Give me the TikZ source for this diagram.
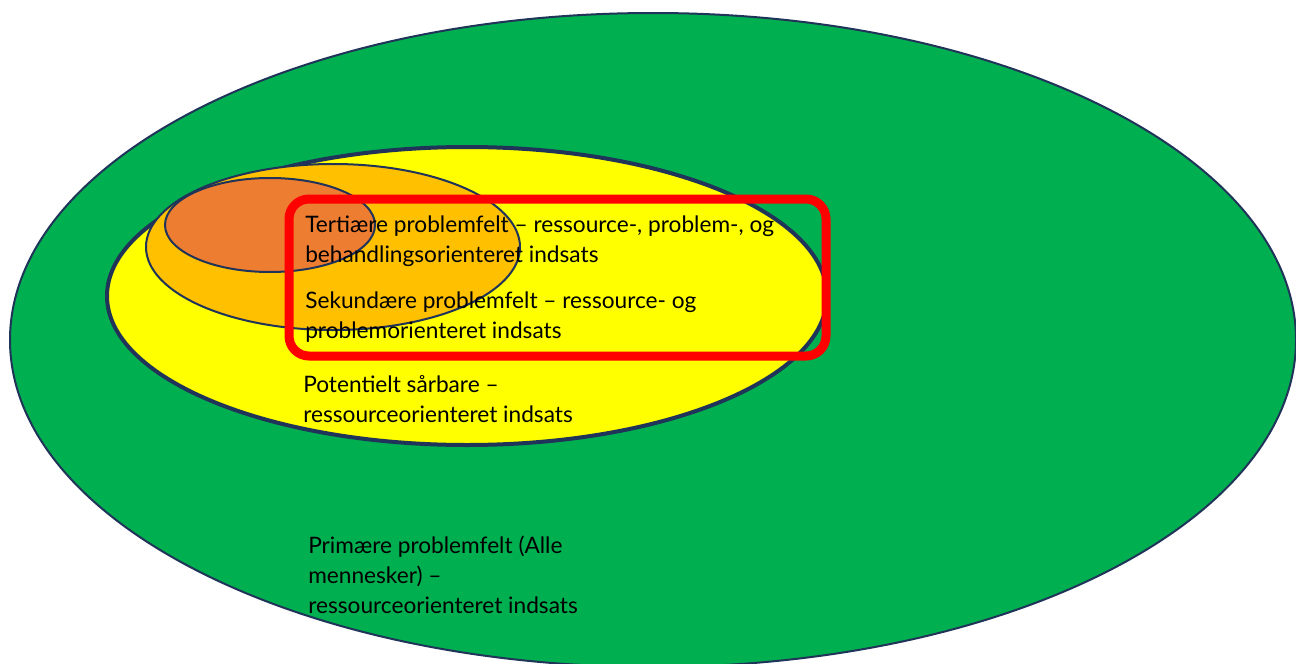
\documentclass[tikz,border=0pt]{standalone}
\usepackage{fontspec}
\setmainfont{Lato}
\usetikzlibrary{positioning}
\definecolor{primgreen}{HTML}{00B050}
\definecolor{potyellow}{HTML}{FFFF00}
\definecolor{sekorange}{HTML}{FFC000}
\definecolor{tertorange}{HTML}{ED7D31}
\definecolor{rimnavy}{HTML}{1F3458}
\definecolor{focusred}{HTML}{FF0000}
\begin{document}
\begin{tikzpicture}[x=0.75pt,y=-0.75pt,
		zone/.style={draw=rimnavy,line width=1.5pt},
		focus/.style={draw=focusred,line width=6.75pt,rounded corners=15pt},
		lbl/.style={anchor=base west,align=left,inner sep=0pt,font=\fontsize{17}{22.5}\selectfont}]
		\useasboundingbox (0,0) rectangle (1296,664);
		\clip (0,0) rectangle (1296,664);
		
		\coordinate (prim) at (653,340);
		\coordinate (pot)  at (467,296);
		\coordinate (sek)  at (333,247);
		\coordinate (tert) at (270,225);
		
		\draw[zone,fill=primgreen] (prim) ellipse [x radius=643, y radius=327];
		\draw[zone,fill=potyellow,line width=3pt] (pot) ellipse [x radius=360, y radius=149];
		\draw[zone,fill=sekorange] (sek) ellipse [x radius=187, y radius=83];
		\draw[zone,fill=tertorange] (tert) ellipse [x radius=105, y radius=47];
		
		\node[lbl] (tertlbl) at (305,262) {Tertiære problemfelt – ressource-, problem-, og\\behandlingsorienteret indsats};
		\node[lbl] (seklbl)  at (305,338) {Sekundære problemfelt – ressource- og\\problemorienteret indsats};
		\node[lbl] (potlbl)  at (303,422) {Potentielt sårbare –\\ressourceorienteret indsats};
		\node[lbl] (primlbl) at (308,613) {Primære problemfelt (Alle\\mennesker) –\\ressourceorienteret indsats};
		
		\draw[focus] (289,199) rectangle (826,356);
\end{tikzpicture}
\end{document}
